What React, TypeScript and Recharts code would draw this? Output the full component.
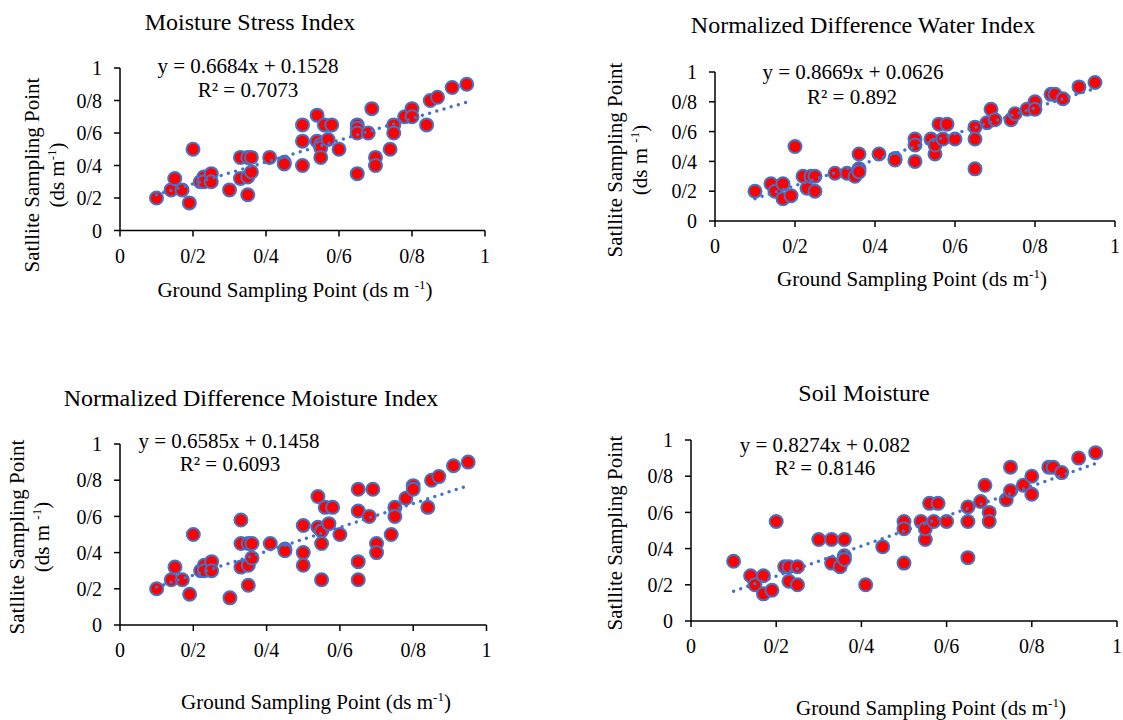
import { Scatter, ScatterChart, XAxis, YAxis } from 'recharts'

const FONT = "'Times New Roman', 'Liberation Serif', serif"
const MARKER_FILL = '#FF0000'
const MARKER_STROKE = '#4472C4'

// tick values and the labels printed under them
const tickValues = [0, 0.2, 0.4, 0.6, 0.8, 1]
const tickLabels = ['0', '0/2', '0/4', '0/6', '0/8', '1']

const titles = [
  'Moisture Stress Index',
  'Normalized Difference Water Index',
  'Normalized Difference Moisture Index',
  'Soil Moisture'
]
const equations = [
  'y = 0.6684x + 0.1528',
  'y = 0.8669x + 0.0626',
  'y = 0.6585x + 0.1458',
  'y = 0.8274x + 0.082'
]
const rSquared = ['R² = 0.7073', 'R² = 0.892', 'R² = 0.6093', 'R² = 0.8146']

// [ground, satellite]
const msiPoints: [number, number][] = [
  [0.1, 0.2], [0.14, 0.25], [0.15, 0.32], [0.17, 0.25], [0.19, 0.17], [0.2, 0.5],
  [0.22, 0.3], [0.23, 0.33], [0.23, 0.3], [0.25, 0.35], [0.25, 0.3], [0.3, 0.25],
  [0.33, 0.45], [0.33, 0.32], [0.35, 0.22], [0.35, 0.33], [0.35, 0.45], [0.36, 0.45],
  [0.36, 0.36], [0.41, 0.45], [0.45, 0.42], [0.45, 0.41], [0.5, 0.4], [0.5, 0.55],
  [0.5, 0.65], [0.54, 0.71], [0.54, 0.55], [0.55, 0.53], [0.55, 0.51], [0.55, 0.45],
  [0.56, 0.65], [0.57, 0.56], [0.58, 0.65], [0.6, 0.5], [0.65, 0.35], [0.65, 0.65],
  [0.65, 0.63], [0.65, 0.6], [0.68, 0.6], [0.69, 0.75], [0.7, 0.45], [0.7, 0.4],
  [0.74, 0.5], [0.75, 0.65], [0.75, 0.6], [0.78, 0.7], [0.8, 0.75], [0.8, 0.7],
  [0.84, 0.65], [0.85, 0.8], [0.87, 0.82], [0.91, 0.88], [0.95, 0.9]
]
const ndwiPoints: [number, number][] = [
  [0.1, 0.2], [0.14, 0.25], [0.15, 0.2], [0.17, 0.25], [0.17, 0.15], [0.19, 0.17],
  [0.2, 0.5], [0.22, 0.3], [0.23, 0.22], [0.24, 0.3], [0.25, 0.3], [0.25, 0.2],
  [0.3, 0.32], [0.33, 0.32], [0.35, 0.3], [0.36, 0.45], [0.36, 0.35], [0.36, 0.33],
  [0.41, 0.45], [0.45, 0.42], [0.45, 0.41], [0.5, 0.55], [0.5, 0.51], [0.5, 0.4],
  [0.54, 0.55], [0.55, 0.45], [0.55, 0.51], [0.56, 0.65], [0.57, 0.55], [0.58, 0.65],
  [0.6, 0.55], [0.65, 0.63], [0.65, 0.55], [0.65, 0.35], [0.68, 0.66], [0.69, 0.75],
  [0.7, 0.68], [0.74, 0.68], [0.75, 0.72], [0.78, 0.75], [0.8, 0.8], [0.8, 0.75],
  [0.84, 0.85], [0.85, 0.85], [0.87, 0.82], [0.91, 0.9], [0.95, 0.93]
]
const ndmiPoints: [number, number][] = [
  [0.1, 0.2], [0.14, 0.25], [0.15, 0.32], [0.17, 0.25], [0.19, 0.17], [0.2, 0.5],
  [0.22, 0.3], [0.23, 0.33], [0.23, 0.3], [0.25, 0.35], [0.25, 0.3], [0.3, 0.15],
  [0.33, 0.58], [0.33, 0.45], [0.33, 0.32], [0.35, 0.22], [0.35, 0.33], [0.35, 0.45],
  [0.36, 0.45], [0.36, 0.37], [0.41, 0.45], [0.45, 0.42], [0.45, 0.41], [0.5, 0.55],
  [0.5, 0.4], [0.5, 0.33], [0.54, 0.71], [0.54, 0.54], [0.55, 0.52], [0.55, 0.45],
  [0.55, 0.25], [0.56, 0.65], [0.57, 0.56], [0.58, 0.65], [0.6, 0.5], [0.65, 0.75],
  [0.65, 0.63], [0.65, 0.35], [0.65, 0.25], [0.68, 0.6], [0.69, 0.75], [0.7, 0.45],
  [0.7, 0.4], [0.74, 0.5], [0.75, 0.65], [0.75, 0.6], [0.78, 0.7], [0.8, 0.77],
  [0.8, 0.75], [0.84, 0.65], [0.85, 0.8], [0.87, 0.82], [0.91, 0.88], [0.95, 0.9]
]
const smPoints: [number, number][] = [
  [0.1, 0.33], [0.14, 0.25], [0.15, 0.2], [0.17, 0.25], [0.17, 0.15], [0.19, 0.17],
  [0.2, 0.55], [0.22, 0.3], [0.23, 0.22], [0.23, 0.3], [0.25, 0.3], [0.25, 0.2],
  [0.3, 0.45], [0.33, 0.45], [0.33, 0.32], [0.35, 0.3], [0.36, 0.45], [0.36, 0.36],
  [0.36, 0.34], [0.41, 0.2], [0.45, 0.41], [0.5, 0.55], [0.5, 0.51], [0.5, 0.32],
  [0.54, 0.55], [0.55, 0.45], [0.55, 0.51], [0.56, 0.65], [0.57, 0.55], [0.58, 0.65],
  [0.6, 0.55], [0.65, 0.63], [0.65, 0.55], [0.65, 0.35], [0.68, 0.66], [0.69, 0.75],
  [0.7, 0.6], [0.7, 0.55], [0.74, 0.67], [0.75, 0.85], [0.75, 0.72], [0.78, 0.75],
  [0.8, 0.8], [0.8, 0.7], [0.84, 0.85], [0.85, 0.85], [0.87, 0.82], [0.91, 0.9],
  [0.95, 0.93]
]

// trendline end points as drawn
const msiTrend: [number, number][] = [[0.1, 0.22], [0.95, 0.79]]
const ndwiTrend: [number, number][] = [[0.1, 0.15], [0.95, 0.89]]
const ndmiTrend: [number, number][] = [[0.1, 0.21], [0.95, 0.77]]
const smTrend: [number, number][] = [[0.1, 0.165], [0.95, 0.87]]

const toRows = (pts: [number, number][]) => pts.map(([x, y]) => ({ x, y }))

const fmtTick = (v: number) => {
  const i = tickValues.findIndex(t => Math.abs(t - v) < 1e-6)
  return i >= 0 ? tickLabels[i] : String(v)
}

const Marker = (props: any) => {
  const { cx, cy } = props
  if (cx == null || cy == null) return <g />
  return (
    <circle
      cx={cx}
      cy={cy}
      r={6.5}
      fill={MARKER_FILL}
      stroke={MARKER_STROKE}
      strokeWidth={2}
    />
  )
}

const NoMarker = () => <g />

const Sup = ({ children }: { children: string }) => (
  <span style={{ fontSize: '0.62em', position: 'relative', top: '-0.6em' }}>
    {children}
  </span>
)

interface TxtProps {
  x: number
  y: number
  size: number
  rotate?: boolean
  children: any
}

const Txt = ({ x, y, size, rotate, children }: TxtProps) => (
  <div
    style={{
      position: 'absolute',
      left: x,
      top: y,
      transform: 'translate(-50%, -50%)' + (rotate ? ' rotate(-90deg)' : ''),
      fontSize: size,
      fontFamily: FONT,
      lineHeight: 1,
      whiteSpace: 'nowrap',
      color: '#000'
    }}
  >
    {children}
  </div>
)

const Y_W = 70
const X_H = 48
const M_TOP = 20
const M_RIGHT = 6

interface PanelProps {
  points: [number, number][]
  trend: [number, number][]
  plot: [number, number, number, number] // left, top, right, bottom
}

const Panel = ({ points, trend, plot }: PanelProps) => {
  const [l, t, r, b] = plot
  const width = r - l + Y_W + M_RIGHT
  const height = b - t + M_TOP + X_H
  const axisStyle = { stroke: '#000', strokeWidth: 1.5 }
  const tickStyle = { fill: '#000', fontSize: 20, fontFamily: FONT }
  return (
    <div style={{ position: 'absolute', left: l - Y_W, top: t - M_TOP }}>
      <ScatterChart
        width={width}
        height={height}
        margin={{ top: M_TOP, right: M_RIGHT, left: 0, bottom: 0 }}
      >
        <XAxis
          type='number'
          dataKey='x'
          domain={[0, 1]}
          ticks={tickValues}
          interval={0}
          tickFormatter={fmtTick}
          height={X_H}
          axisLine={axisStyle}
          tickLine={axisStyle}
          tickSize={6}
          tickMargin={12}
          tick={tickStyle}
        />
        <YAxis
          type='number'
          dataKey='y'
          domain={[0, 1]}
          ticks={tickValues}
          interval={0}
          tickFormatter={fmtTick}
          width={Y_W}
          axisLine={axisStyle}
          tickLine={axisStyle}
          tickSize={6}
          tickMargin={12}
          tick={tickStyle}
        />
        <Scatter
          data={toRows(points)}
          shape={Marker}
          isAnimationActive={false}
        />
        <Scatter
          data={toRows(trend)}
          shape={NoMarker}
          line={{
            stroke: MARKER_STROKE,
            strokeWidth: 3.5,
            strokeDasharray: '0 7.5',
            strokeLinecap: 'round'
          }}
          isAnimationActive={false}
        />
      </ScatterChart>
    </div>
  )
}

export default function App() {
  const labelSize = 21
  return (
    <div
      style={{
        position: 'absolute',
        left: 0,
        top: 0,
        width: 1123,
        height: 720,
        background: '#fff',
        overflow: 'hidden'
      }}
    >
      <Panel points={msiPoints} trend={msiTrend} plot={[120, 68.3, 485, 230.8]} />
      <Panel points={ndwiPoints} trend={ndwiTrend} plot={[715, 71.7, 1115, 220.7]} />
      <Panel points={ndmiPoints} trend={ndmiTrend} plot={[120, 444, 486.5, 625]} />
      <Panel points={smPoints} trend={smTrend} plot={[691, 440, 1117, 621]} />

      {/* top left */}
      <Txt x={250} y={22} size={24}>{titles[0]}</Txt>
      <Txt x={248} y={66} size={21}>{equations[0]}</Txt>
      <Txt x={248} y={90} size={21}>{rSquared[0]}</Txt>
      <Txt x={32} y={175} size={labelSize} rotate>Satllite Sampling Point</Txt>
      <Txt x={57} y={175} size={labelSize} rotate>
        (ds m<Sup>-1</Sup>)
      </Txt>
      <Txt x={295} y={290} size={labelSize}>
        Ground Sampling Point (ds m <Sup>-1</Sup>)
      </Txt>

      {/* top right */}
      <Txt x={863} y={25} size={24}>{titles[1]}</Txt>
      <Txt x={853} y={72} size={21}>{equations[1]}</Txt>
      <Txt x={852} y={97} size={21}>{rSquared[1]}</Txt>
      <Txt x={615} y={160} size={labelSize} rotate>Satllite Sampling Point</Txt>
      <Txt x={640} y={160} size={labelSize} rotate>
        (ds m <Sup>-1</Sup>)
      </Txt>
      <Txt x={912} y={279} size={labelSize}>
        Ground Sampling Point (ds m<Sup>-1</Sup>)
      </Txt>

      {/* bottom left */}
      <Txt x={251} y={398} size={24}>{titles[2]}</Txt>
      <Txt x={229} y={441} size={21}>{equations[2]}</Txt>
      <Txt x={230} y={464} size={21}>{rSquared[2]}</Txt>
      <Txt x={17} y={537} size={labelSize} rotate>Satllite Sampling Point</Txt>
      <Txt x={42} y={537} size={labelSize} rotate>
        (ds m <Sup>-1</Sup>)
      </Txt>
      <Txt x={316} y={702} size={labelSize}>
        Ground Sampling Point (ds m<Sup>-1</Sup>)
      </Txt>

      {/* bottom right */}
      <Txt x={864} y={393} size={24}>{titles[3]}</Txt>
      <Txt x={825} y={445} size={21}>{equations[3]}</Txt>
      <Txt x={825} y={468} size={21}>{rSquared[3]}</Txt>
      <Txt x={615} y={533} size={labelSize} rotate>Satllite Sampling Point</Txt>
      <Txt x={931} y={708} size={labelSize}>
        Ground Sampling Point (ds m<Sup>-1</Sup>)
      </Txt>
    </div>
  )
}
